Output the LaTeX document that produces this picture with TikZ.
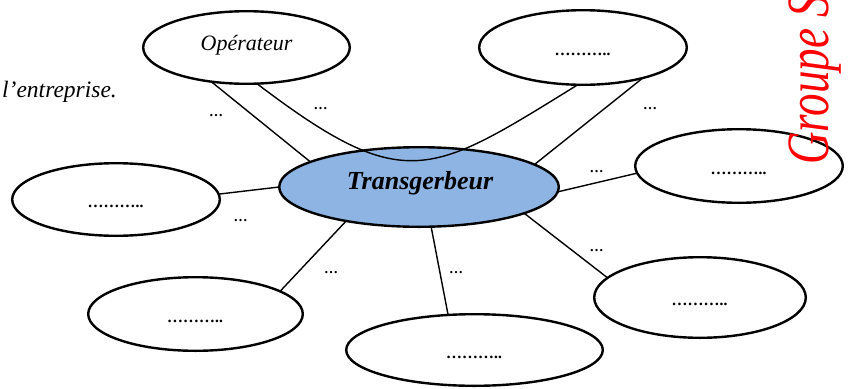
\documentclass[tikz,border=0pt]{standalone}
\usepackage{fontspec}
\setmainfont{Liberation Serif}
\usetikzlibrary{shapes.geometric}
\definecolor{centreblue}{RGB}{142,180,227}
\definecolor{groupred}{RGB}{255,0,0}

\begin{document}
\begin{tikzpicture}[x=1pt,y=-1pt,
  bubble/.style={ellipse, draw, line width=2.4pt, fill=white, inner sep=0pt, outer sep=0pt},
  hub/.style={bubble, fill=centreblue},
  link/.style={line width=1.4pt},
  blank/.style={anchor=base, yshift=-8pt, inner sep=0pt, font=\fontsize{16}{18}\selectfont\bfseries\itshape},
  gap/.style={anchor=base, inner sep=0pt, font=\fontsize{14}{15}\selectfont\bfseries\itshape},
]
\useasboundingbox (0,0) rectangle (853,388);
\clip (0,0) rectangle (853,388);

% margin text
\node[anchor=base west, inner sep=0pt, font=\fontsize{23.5}{26}\selectfont\itshape] (ent) at (2,97) {l’entreprise.};

% central actor
\node[hub, minimum width=279.6pt, minimum height=79.6pt] (c) at (419,187) {};

% surrounding actors
\node[bubble, minimum width=206.6pt, minimum height=72.6pt] (op) at (246.5,47.5) {};
\node[bubble, minimum width=207.6pt, minimum height=74.6pt] (tr) at (583,47.5) {};
\node[bubble, minimum width=207.6pt, minimum height=73.6pt] (r)  at (739,166) {};
\node[bubble, minimum width=207.6pt, minimum height=72.6pt] (l)  at (116,199.5) {};
\node[bubble, minimum width=214.6pt, minimum height=73.6pt] (ll) at (195.5,314) {};
\node[bubble, minimum width=256.6pt, minimum height=71.6pt] (b)  at (474.5,350) {};
\node[bubble, minimum width=211.6pt, minimum height=80.6pt] (lr) at (700,297.5) {};

% labels inside the bubbles
\node[anchor=base, inner sep=0pt, font=\fontsize{22}{25}\selectfont\itshape] (optxt) at (246.5,50) {Opérateur};
\node[anchor=base, inner sep=0pt, font=\fontsize{26}{30}\selectfont\bfseries\itshape] (ctxt) at (420,189) {Transgerbeur};
\node[blank] (trtxt) at (tr) {………..};
\node[blank] (rtxt)  at (r)  {………..};
\node[blank] (ltxt)  at (l)  {………..};
\node[blank] (lltxt) at (ll) {………..};
\node[blank] (btxt)  at (b)  {………..};
\node[blank] (lrtxt) at (lr) {………..};

% connectors
\draw[link] (op.224.2) -- (c.167.8);
\draw[link] (op.286.1) .. controls (405,196) and (430,176) .. (tr.262.8);
\draw[link] (tr.333.1) -- (c.11.4);
\draw[link] (c.358.8) -- (r.184.4);
\draw[link] (l.3.5) -- (c.180);
\draw[link] (c.205.6) -- (ll.15.9);
\draw[link] (c.287.2) -- (b.127.6);
\draw[link] (c.346.6) -- (lr.168.3);

% connector labels
\node[gap] (g1) at (216.5,116) {…};
\node[gap] (g2) at (321,109) {…};
\node[gap] (g3) at (650.5,109) {…};
\node[gap] (g4) at (597,172) {…};
\node[gap] (g5) at (241,221) {…};
\node[gap] (g6) at (331.5,273) {…};
\node[gap] (g7) at (456.5,273) {…};
\node[gap] (g8) at (597,251) {…};

% vertical red heading at the right edge
\node[rotate=90, anchor=base west, inner sep=0pt, text=groupred,
      font=\fontsize{60}{60}\selectfont\itshape] (grp) at (828,165) {\scalebox{0.75}[1]{Groupe S}};
\end{tikzpicture}
\end{document}
